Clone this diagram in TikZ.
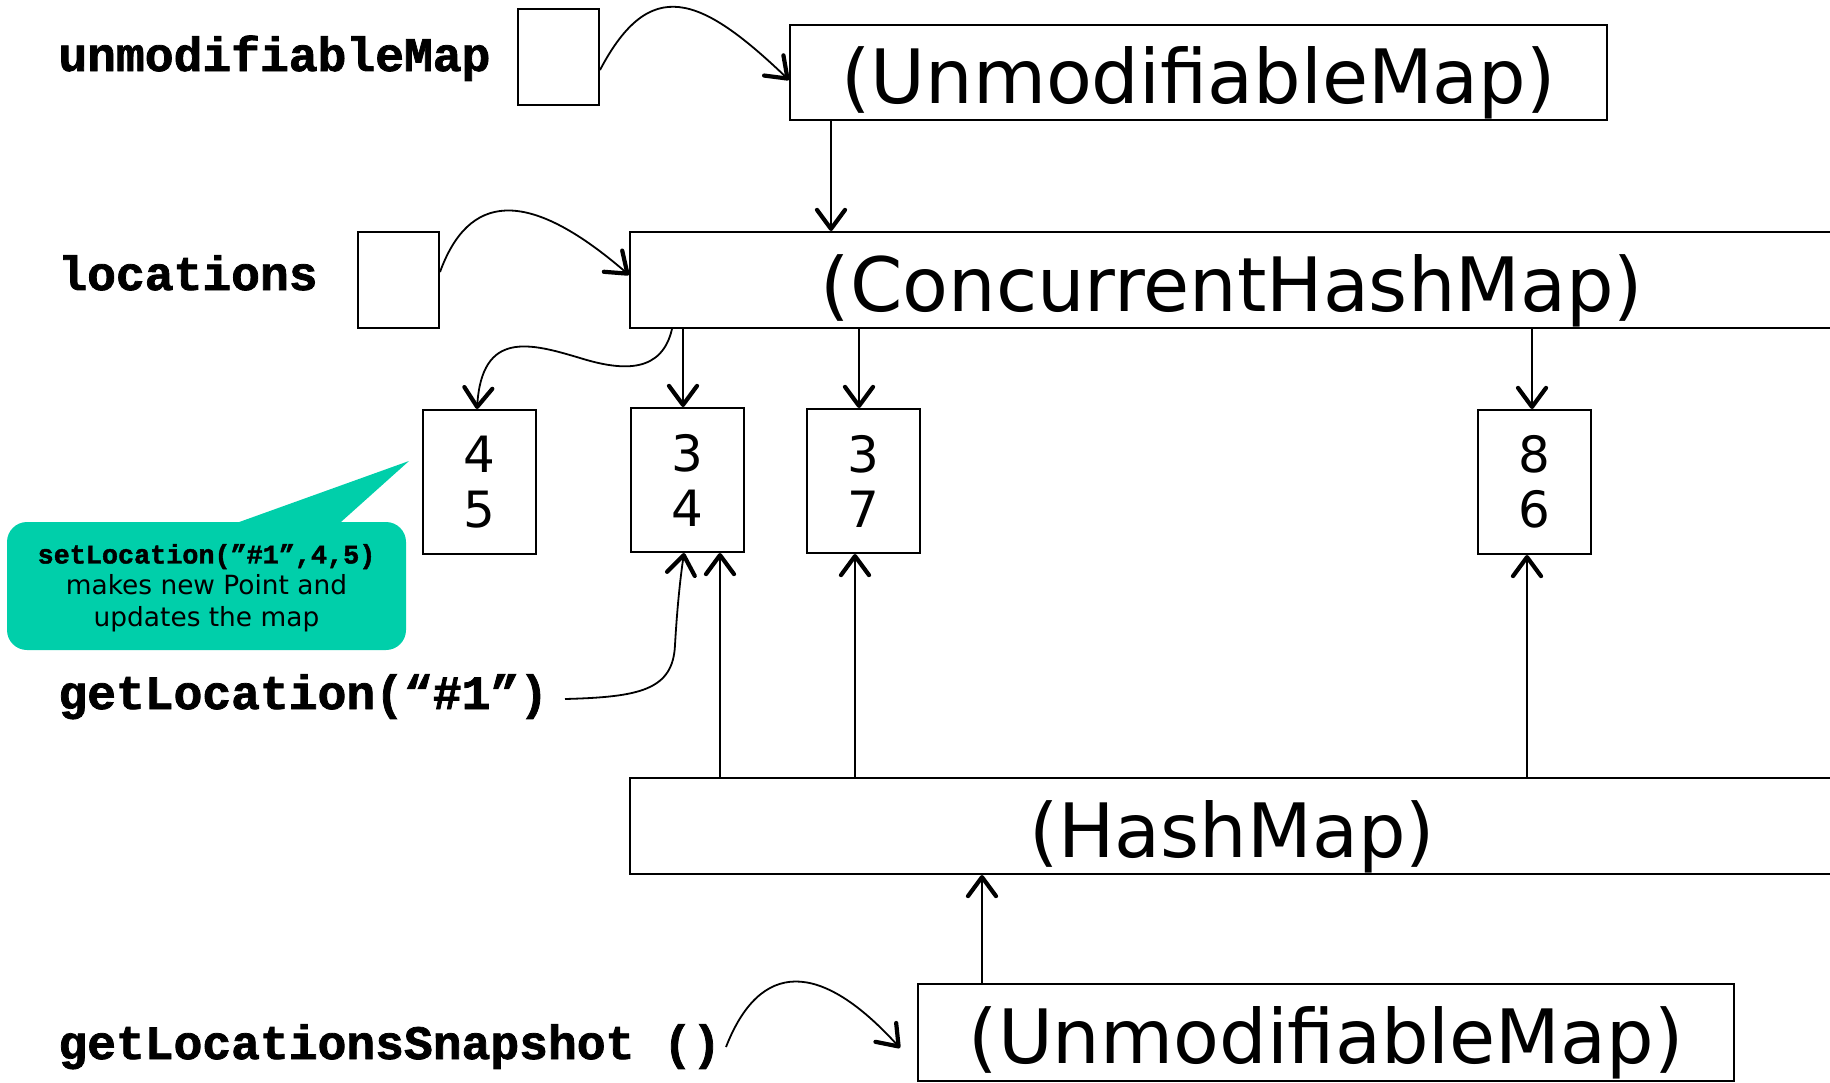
\documentclass[tikz,border=0pt]{standalone}
\usepackage{fontspec}
\setmainfont{DejaVu Sans}
\newfontfamily\codefont{Liberation Mono}[BoldFeatures={FakeBold=1.6}]
\usetikzlibrary{arrows.meta}
\definecolor{callteal}{RGB}{0,207,170}
\begin{document}
\begin{tikzpicture}[x=0.5pt,y=-0.5pt,
  box/.style={draw, line width=1pt, inner sep=0pt},
  big/.style={box, font=\fontsize{37.5}{40}\selectfont, text height=31pt, text depth=0pt},
  cell/.style={box, minimum width=56.5pt, minimum height=72pt, align=center, font=\fontsize{25}{27.5}\selectfont},
  refbox/.style={box, minimum width=40.5pt, minimum height=48pt},
  lab/.style={font=\codefont\bfseries\fontsize{24}{28}\selectfont, inner sep=0pt, anchor=base west},
  conn/.style={line width=0.9pt, -{Straight Barb[length=9.5pt,width=14pt,line width=2.1pt,round]}},
]
\useasboundingbox (0,0) rectangle (1830,1082);
\clip (0,0) rectangle (1830,1082);

% boxes
\node[refbox] (b1) at (558.5,57) {};
\node[big, minimum width=408.5pt, minimum height=47.5pt] (um1) at (1198.5,72.5) {(UnmodifiableMap)};
\node[refbox] (b2) at (398.5,280) {};
\node[big, minimum width=602pt, minimum height=48pt] (chm) at (1232,280) {(ConcurrentHashMap)};
\node[cell] (p45) at (479.5,482) {4\\5};
\node[cell] (p34) at (687,480) {3\\4};
\node[cell] (p37) at (863,481) {3\\7};
\node[cell] (p86) at (1534.5,482) {8\\6};
\node[big, minimum width=602pt, minimum height=48pt] (hm) at (1232,826) {(HashMap)};
\node[big, minimum width=408pt, minimum height=48.5pt] (um2) at (1326,1032.5) {(UnmodifiableMap)};

% labels
\node[lab] (lum) at (58,71) {unmodifiableMap};
\node[lab] (lloc) at (58,290) {locations};
\node[lab] (lgl) at (58,709) {getLocation(“\#1”)};
\node[lab] (lgs) at (58,1059) {getLocationsSnapshot ()};

% callout
\fill[callteal, rounded corners=10pt] (7,522) rectangle (406,650);
\fill[callteal] (217,530) -- (409,461) -- (332,530) -- cycle;
\node[font=\fontsize{13.2}{15.75}\selectfont, align=center, inner sep=0pt] (note) at (206.5,588)
  {{\codefont\bfseries\fontsize{13.4}{15.75}\selectfont setLocation(”\#1”,4,5)}\\makes new Point and\\updates the map};

% connectors
\draw[conn] (b1.east |- 0,70) .. controls (650,-25) and (700,-5) .. (um1.west |- 0,80);
\draw[conn] (b2.east |- 0,272) .. controls (468,195) and (525,185) .. (chm.west |- 0,275);
\draw[conn] (um1.south -| 831,0) -- (chm.north -| 831,0);

\draw[conn] (chm.south -| 672,0) .. controls (662,372) and (625,372) .. (580,358)
  .. controls (530,343) and (482,330) .. (p45.north -| 477,0);
\draw[conn] (chm.south -| 683,0) -- (p34.north -| 683,0);
\draw[conn] (chm.south -| 859,0) -- (p37.north -| 859,0);
\draw[conn] (chm.south -| 1532,0) -- (p86.north -| 1532,0);

\draw[conn] (hm.north -| 720,0) -- (p34.south -| 720,0);
\draw[conn] (hm.north -| 855,0) -- (p37.south -| 855,0);
\draw[conn] (hm.north -| 1527,0) -- (p86.south -| 1527,0);
\draw[conn] (um2.north -| 982,0) -- (hm.south -| 982,0);

\coordinate (glout) at (565,699);
\draw[conn] (glout) .. controls (640,697) and (673,690) .. (675,645)
  .. controls (677,610) and (680,580) .. (p34.south -| 684,0);

\coordinate (gsout) at (726,1047);
\coordinate (gsin) at (900,1048);
\draw[conn] (gsout) .. controls (760,960) and (820,960) .. (gsin);
\end{tikzpicture}
\end{document}
